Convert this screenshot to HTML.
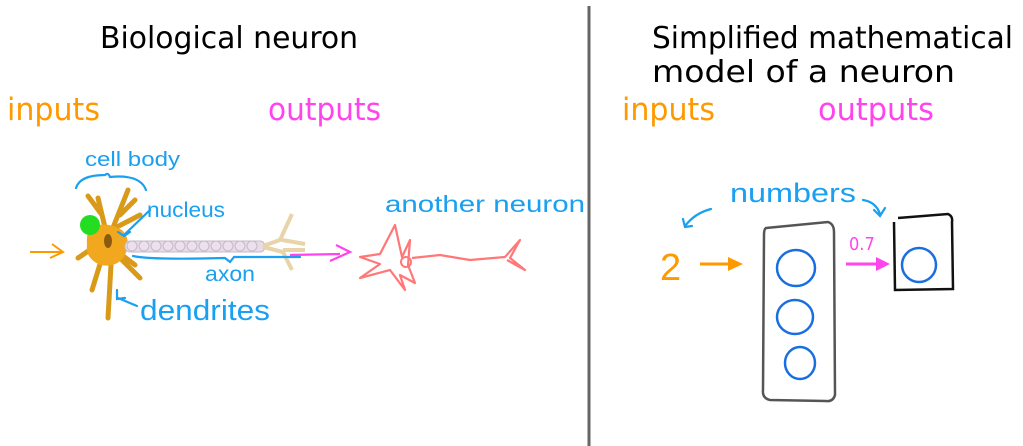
<!DOCTYPE html>
<html><head><meta charset="utf-8"><style>
html,body{margin:0;padding:0;background:#fff;width:1023px;height:446px;overflow:hidden}
svg{display:block}
.t{font-family:"DejaVu Sans Condensed","DejaVu Sans","Liberation Sans",sans-serif}
.h{font-family:"Liberation Sans","DejaVu Sans",sans-serif}
</style></head><body>
<svg width="1023" height="446" viewBox="0 0 1023 446" xmlns="http://www.w3.org/2000/svg">
<rect width="1023" height="446" fill="#fff"/>
<line x1="589" y1="6" x2="589" y2="446" stroke="#666" stroke-width="3"/>
<g class="t" fill="#000" font-size="30">
<text x="100" y="48" textLength="258" lengthAdjust="spacingAndGlyphs">Biological neuron</text>
<text x="652" y="48" textLength="361" lengthAdjust="spacingAndGlyphs">Simplified mathematical</text>
<text x="652" y="82" textLength="303" lengthAdjust="spacingAndGlyphs">model of a neuron</text>
</g>
<g class="t" font-size="31">
<text x="7" y="120" fill="#ff9900" textLength="93" lengthAdjust="spacingAndGlyphs">inputs</text>
<text x="268" y="120" fill="#ff44ee" textLength="113" lengthAdjust="spacingAndGlyphs">outputs</text>
<text x="622" y="120" fill="#ff9900" textLength="93" lengthAdjust="spacingAndGlyphs">inputs</text>
<text x="818" y="120" fill="#ff44ee" textLength="116" lengthAdjust="spacingAndGlyphs">outputs</text>
</g>
<!-- biological neuron -->
<g stroke="#d99a1a" stroke-width="5" fill="none" stroke-linecap="round">
<path d="M108 240 L98 198 M102 215 L88 196 M110 235 L128 190 M120 215 L135 200 M115 228 L140 215 M100 243 L78 258 M105 248 L92 290 M112 250 L140 278 M112 247 L108 318 M118 252 L135 265"/>
</g>
<path d="M90 228 Q105 220 122 230 Q132 240 125 255 Q118 268 100 265 Q85 258 87 245 Q86 234 90 228 Z" fill="#f2a81e"/>
<ellipse cx="108" cy="241" rx="4" ry="7" fill="#8a5a10"/>
<circle cx="90" cy="225" r="10" fill="#22dd22"/>
<rect x="125" y="241" width="140" height="11" rx="5" fill="#e8dce8" stroke="#c8b8c8"/>
<g fill="#ece0ec" stroke="#c8b8c8"><circle cx="132" cy="246" r="5"/><circle cx="144" cy="246" r="5"/><circle cx="156" cy="246" r="5"/><circle cx="168" cy="246" r="5"/><circle cx="180" cy="246" r="5"/><circle cx="192" cy="246" r="5"/><circle cx="204" cy="246" r="5"/><circle cx="216" cy="246" r="5"/><circle cx="228" cy="246" r="5"/><circle cx="240" cy="246" r="5"/><circle cx="252" cy="246" r="5"/></g>
<path d="M263 246 L280 240 L292 214 M282 240 L305 244 M263 247 L283 252 L292 270 M283 250 L305 250" stroke="#e8d4a8" stroke-width="4" fill="none"/>
<path d="M30 252 L62 252 M52 244 L63 252 L50 258" stroke="#ff9900" stroke-width="2" fill="none"/>
<g stroke="#1aa0f0" stroke-width="2.2" fill="none" stroke-linecap="round">
<path d="M76 188 Q80 175 105 175 Q108 172 110 177 Q140 174 146 190"/>
<path d="M150 210 L124 235 M118 232 L124 236 L130 232"/>
<path d="M133 256 Q150 260 225 258 L230 262 L234 257 L300 257"/>
<path d="M137 306 L118 298 M117 290 L117 299 L125 298"/>
<path d="M711 209 Q695 213 685 226 M683 219 L685 227 L692 226"/>
<path d="M863 200 Q876 202 880 214 M874 210 L880 216 L885 208"/>
</g>
<g class="h" fill="#1aa0f0">
<text x="85" y="166" font-size="20" textLength="95" lengthAdjust="spacingAndGlyphs">cell body</text>
<text x="147" y="217" font-size="21" textLength="78" lengthAdjust="spacingAndGlyphs">nucleus</text>
<text x="205" y="281" font-size="21" textLength="50" lengthAdjust="spacingAndGlyphs">axon</text>
<text x="140" y="320" font-size="29" textLength="130" lengthAdjust="spacingAndGlyphs">dendrites</text>
<text x="385" y="212" font-size="23" textLength="200" lengthAdjust="spacingAndGlyphs">another neuron</text>
<text x="730" y="202" font-size="27" textLength="126" lengthAdjust="spacingAndGlyphs">numbers</text>
</g>
<path d="M290 255 L340 254 M336 245 L350 252 L330 261" stroke="#ff44ee" stroke-width="2.2" fill="none"/>
<path d="M360 257 L380 254 L395 225 L402 257 L410 240 L408 265 L415 283 L400 275 L405 290 L390 270 L360 278 L380 264 Z M412 258 L440 255 L470 260 L505 257 L520 240 L510 258 L525 270 L507 260" stroke="#f77" stroke-width="2.2" fill="none" stroke-linejoin="round"/>
<circle cx="406" cy="262" r="5" fill="none" stroke="#f77" stroke-width="2"/>
<!-- math model -->
<text x="660" y="280" class="h" font-size="38" fill="#ff9900">2</text>
<path d="M700 264 L730 264" stroke="#ff9900" stroke-width="3"/><path d="M728 257 L743 264 L728 271 Z" fill="#ff9900"/>
<path d="M766 228 L828 222 Q834 224 834 232 L835 395 Q833 402 826 401 L770 400 Q762 398 763 390 L764 235 Q764 229 766 228 Z" fill="none" stroke="#555" stroke-width="2.5"/>
<g fill="none" stroke="#1a6fe0" stroke-width="2.5">
<ellipse cx="796" cy="268" rx="19" ry="18"/><ellipse cx="795" cy="317" rx="18" ry="17"/><ellipse cx="800" cy="363" rx="15" ry="16"/>
<ellipse cx="919" cy="265" rx="17" ry="17"/>
</g>
<path d="M846 264 L878 264" stroke="#ff44ee" stroke-width="3"/><path d="M876 257 L890 264 L876 271 Z" fill="#ff44ee"/>
<text x="849" y="250" class="t" font-size="18" fill="#ff44ee">0.7</text>
<path d="M898 218 L948 214 Q953 216 952 222 L953 289 L895 290 L894 222" fill="none" stroke="#111" stroke-width="2.5"/>
</svg>
</body></html>
